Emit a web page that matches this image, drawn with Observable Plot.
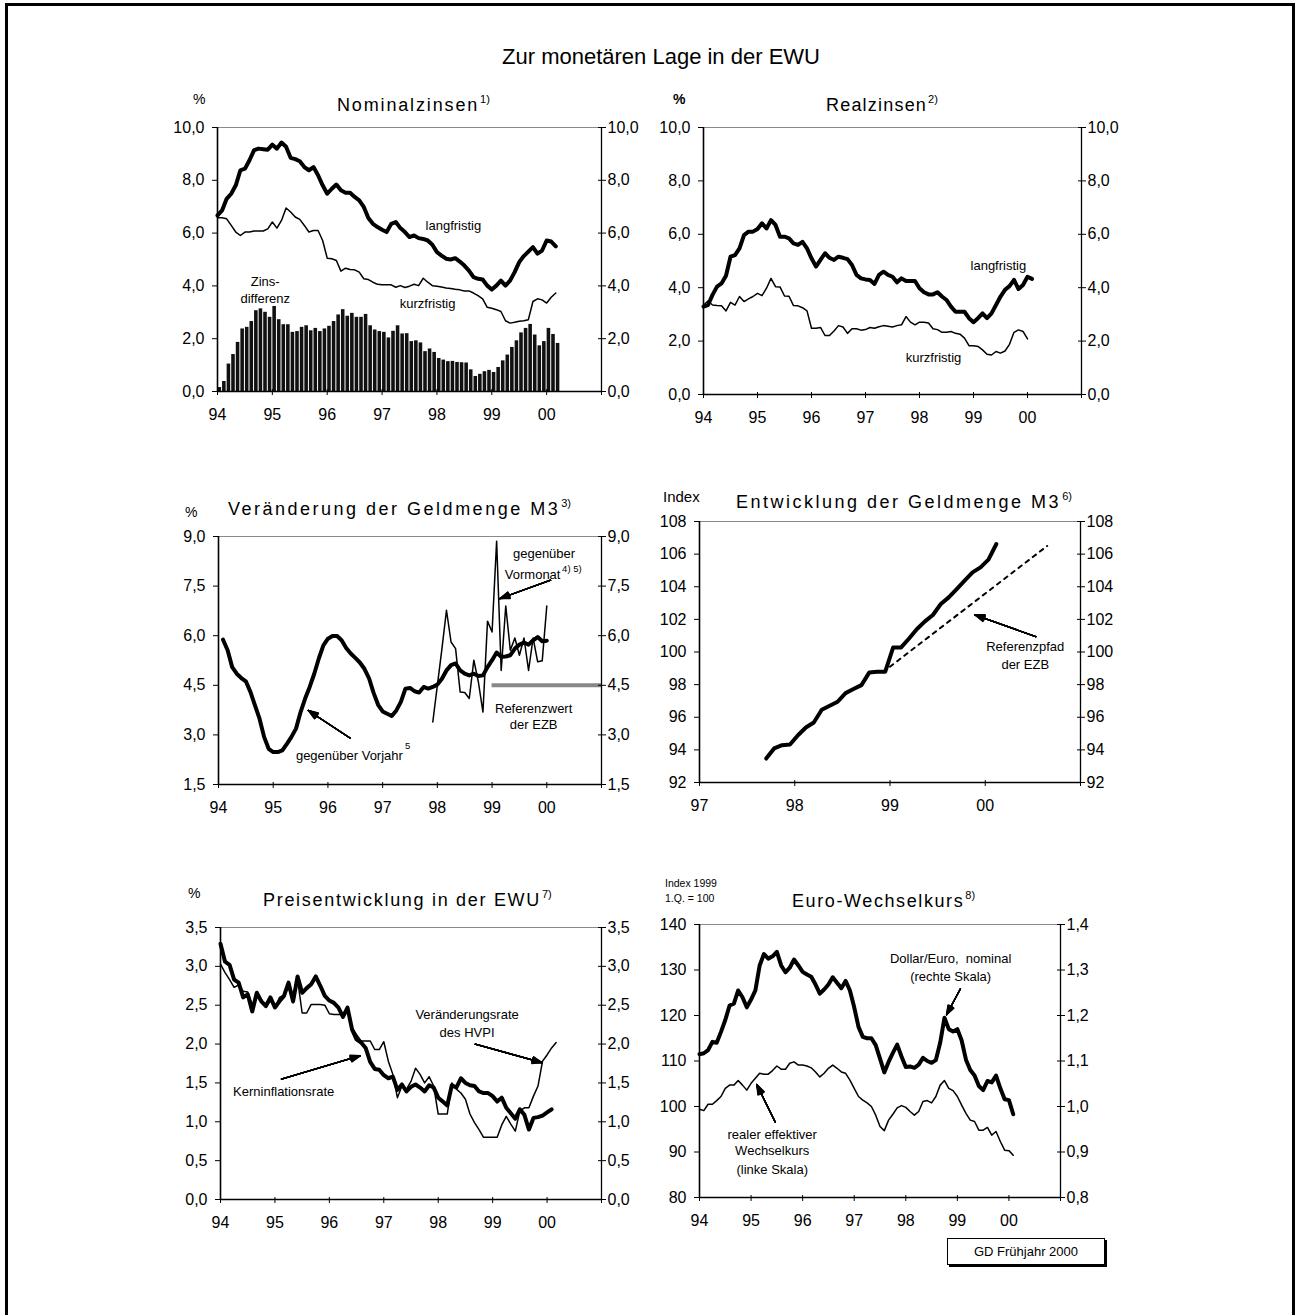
<!DOCTYPE html>
<html lang="de">
<head>
<meta charset="utf-8">
<title>Zur monetären Lage in der EWU</title>
<script src="https://cdn.jsdelivr.net/npm/d3@7"></script>
<script src="https://cdn.jsdelivr.net/npm/@observablehq/plot@0.6"></script>
<style>
html,body{margin:0;padding:0;background:#fff;}
#page{position:relative;width:1296px;height:1315px;overflow:hidden;background:#fff;font-family:"Liberation Sans",Arial,Helvetica,sans-serif;}
#outer{position:absolute;left:5px;top:3px;width:1290px;height:1340px;border:3px solid #000;box-sizing:border-box;}
#stamp{position:absolute;left:947px;top:1238px;width:158px;height:27px;border:1px solid #000;box-shadow:2px 2px 0 #000;font-size:13px;line-height:25px;text-align:center;background:#fff;box-sizing:border-box;z-index:5;}
#page svg{position:absolute;overflow:visible;}
</style>
</head>
<body>
<div id="page"><div id="outer"></div><div id="stamp">GD Frühjahr 2000</div></div>
<script>
// ---------------- DATA ----------------
// Nominalzinsen, monthly from Jan 1994
const nomLang = [
  6.67, 6.86, 7.30, 7.49, 7.81, 8.38, 8.44, 8.76, 9.14, 9.20, 9.18, 9.16,
  9.35, 9.20, 9.43, 9.27, 8.85, 8.80, 8.72, 8.50, 8.38, 8.50, 8.19, 7.81,
  7.49, 7.68, 7.84, 7.62, 7.53, 7.53, 7.37, 7.24, 6.99, 6.57, 6.35, 6.23,
  6.13, 6.04, 6.35, 6.42, 6.19, 6.04, 5.85, 5.91, 5.81, 5.78, 5.72, 5.56,
  5.28, 5.15, 5.03, 5.00, 5.05, 4.92, 4.77, 4.58, 4.33, 4.27, 4.24, 4.01,
  3.86, 4.01, 4.20, 4.01, 4.20, 4.52, 4.90, 5.13, 5.30, 5.47, 5.22, 5.34,
  5.72, 5.68, 5.50
];
const nomKurz = [
  6.58, 6.58, 6.54, 6.29, 6.04, 5.91, 6.04, 6.04, 6.08, 6.08, 6.08, 6.16,
  6.42, 6.19, 6.48, 6.95, 6.80, 6.61, 6.52, 6.29, 6.04, 6.10, 6.10, 5.72,
  5.05, 5.03, 4.96, 4.56, 4.67, 4.62, 4.61, 4.52, 4.27, 4.24, 4.14, 4.06,
  4.04, 4.04, 4.04, 3.95, 4.01, 3.94, 3.99, 4.06, 4.01, 4.29, 4.14, 4.01,
  3.99, 3.96, 3.92, 3.90, 3.87, 3.85, 3.81, 3.81, 3.73, 3.63, 3.51, 3.19,
  3.15, 3.10, 3.03, 2.68, 2.59, 2.62, 2.66, 2.68, 2.72, 3.41, 3.51, 3.47,
  3.35, 3.57, 3.73
];
const zinsDiff = [
  0.15, 0.38, 1.04, 1.40, 1.86, 2.37, 2.43, 2.65, 3.06, 3.13, 3.00, 2.81,
  3.22, 2.72, 2.53, 2.53, 2.24, 2.27, 2.43, 2.49, 2.30, 2.39, 2.27, 2.37,
  2.47, 2.65, 2.90, 3.10, 2.85, 2.96, 2.81, 2.81, 2.92, 2.49, 2.33, 2.27,
  2.24, 2.03, 2.28, 2.49, 2.18, 2.19, 1.89, 1.92, 1.84, 1.51, 1.61, 1.48,
  1.25, 1.19, 1.13, 1.14, 1.10, 1.09, 1.08, 0.82, 0.57, 0.65, 0.75, 0.80,
  0.72, 0.91, 1.16, 1.38, 1.67, 1.92, 2.22, 2.39, 2.54, 2.14, 1.73, 1.89,
  2.39, 2.16, 1.82
];
// Realzinsen, monthly from Jan 1994
const realLang = [
  3.29, 3.35, 3.73, 4.04, 4.16, 4.45, 5.16, 5.22, 5.47, 5.97, 6.10, 6.10,
  6.20, 6.41, 6.22, 6.53, 6.35, 5.91, 5.91, 5.85, 5.66, 5.60, 5.72, 5.47,
  5.10, 4.79, 5.04, 5.29, 5.12, 5.04, 5.16, 5.12, 5.07, 4.85, 4.48, 4.35,
  4.31, 4.29, 4.14, 4.48, 4.60, 4.48, 4.41, 4.20, 4.35, 4.25, 4.25, 4.25,
  3.98, 3.83, 3.75, 3.75, 3.83, 3.67, 3.54, 3.29, 3.10, 3.10, 3.10, 2.86,
  2.71, 2.86, 3.04, 2.86, 3.04, 3.35, 3.67, 3.92, 4.06, 4.29, 3.95, 4.10,
  4.41, 4.33
];
const realKurz = [
  3.35, 3.50, 3.35, 3.33, 3.32, 3.13, 3.45, 3.35, 3.67, 3.48, 3.58, 3.67,
  3.79, 3.70, 3.98, 4.35, 4.04, 4.03, 3.69, 3.68, 3.33, 3.32, 3.25, 3.13,
  2.48, 2.48, 2.51, 2.21, 2.21, 2.38, 2.58, 2.53, 2.29, 2.46, 2.46, 2.41,
  2.43, 2.51, 2.48, 2.54, 2.58, 2.56, 2.53, 2.58, 2.61, 2.92, 2.71, 2.61,
  2.71, 2.71, 2.68, 2.46, 2.43, 2.33, 2.33, 2.36, 2.29, 2.26, 2.11, 1.83,
  1.83, 1.80, 1.67, 1.51, 1.48, 1.61, 1.55, 1.63, 1.88, 2.33, 2.42, 2.36,
  2.08
];
// Veränderung der Geldmenge M3: gegenüber Vorjahr from Feb 1994, gegenüber Vormonat from Dec 1997
const m3Vorjahr = [
  5.88, 5.56, 5.05, 4.85, 4.72, 4.62, 4.30, 3.89, 3.49, 2.94, 2.58, 2.48,
  2.48, 2.53, 2.73, 2.94, 3.19, 3.69, 4.10, 4.45, 4.85, 5.31, 5.71, 5.91,
  5.99, 5.99, 5.86, 5.63, 5.46, 5.33, 5.19, 5.00, 4.72, 4.28, 3.91, 3.71,
  3.64, 3.57, 3.74, 4.00, 4.40, 4.42, 4.32, 4.28, 4.45, 4.40, 4.45, 4.52,
  4.70, 4.95, 5.11, 5.16, 4.95, 4.85, 4.80, 4.85, 4.78, 4.80, 5.05, 5.26,
  5.49, 5.36, 5.37, 5.41, 5.61, 5.73, 5.79, 5.73, 5.86, 5.96, 5.83, 5.85
];
const m3Vormonat = [
  3.39, 4.50, 5.60, 6.77, 5.81, 5.61, 4.30, 4.28, 4.10, 5.26, 4.60, 3.69,
  6.44, 6.11, 8.86, 4.95, 6.90, 5.56, 5.93, 5.41, 5.93, 4.95, 5.93, 5.21,
  5.24, 6.90
];
const m3Referenzwert = 4.5;
// Entwicklung der Geldmenge M3 (Index), monthly from Sep 1997
const m3Index = [
  93.47, 94.09, 94.29, 94.33, 94.90, 95.37, 95.68, 96.46, 96.70, 96.95,
  97.48, 97.73, 97.97, 98.75, 98.79, 98.79, 100.28, 100.28, 100.83, 101.41,
  101.88, 102.27, 102.94, 103.35, 103.86, 104.37, 104.88, 105.19, 105.66, 106.62
];
const refPfadX = [1999.0, 2000.65];
const refPfadY = [99.1, 106.5];
// Preisentwicklung, monthly from Jan 1994
const hvpi = [
  3.03, 2.92, 2.83, 2.73, 2.76, 2.68, 2.67, 2.51, 2.64, 2.58, 2.47, 2.56,
  2.47, 2.60, 2.63, 2.73, 2.53, 2.83, 2.40, 2.40, 2.51, 2.51, 2.51, 2.50,
  2.39, 2.38, 2.38, 2.38, 2.43, 2.21, 2.12, 2.04, 2.04, 2.04, 1.93, 1.93,
  2.03, 1.78, 1.61, 1.31, 1.46, 1.42, 1.52, 1.69, 1.61, 1.50, 1.58, 1.46,
  1.10, 1.10, 1.10, 1.50, 1.42, 1.37, 1.29, 1.10, 0.99, 0.90, 0.80, 0.80,
  0.80, 0.80, 0.96, 1.07, 0.97, 0.88, 1.14, 1.18, 1.18, 1.33, 1.46, 1.78,
  1.86, 1.95, 2.02
];
const kern = [
  3.29, 3.06, 3.02, 2.83, 2.79, 2.60, 2.64, 2.42, 2.66, 2.55, 2.49, 2.60,
  2.47, 2.55, 2.62, 2.79, 2.55, 2.87, 2.66, 2.72, 2.77, 2.87, 2.75, 2.62,
  2.56, 2.53, 2.47, 2.35, 2.47, 2.19, 2.06, 2.02, 1.95, 1.77, 1.68, 1.67,
  1.60, 1.56, 1.58, 1.41, 1.48, 1.39, 1.45, 1.48, 1.44, 1.39, 1.47, 1.44,
  1.31, 1.26, 1.21, 1.47, 1.44, 1.56, 1.50, 1.47, 1.46, 1.39, 1.37, 1.37,
  1.33, 1.26, 1.31, 1.18, 1.11, 1.04, 1.16, 1.09, 0.90, 1.05, 1.06, 1.08,
  1.12, 1.16
];
// Euro-Wechselkurs, monthly from Jan 1994
const dollarEuro = [
  1.115, 1.117, 1.124, 1.142, 1.140, 1.164, 1.190, 1.222, 1.226, 1.255, 1.240, 1.218,
  1.235, 1.255, 1.310, 1.335, 1.325, 1.330, 1.340, 1.310, 1.295, 1.305, 1.323, 1.310,
  1.296, 1.290, 1.285, 1.268, 1.248, 1.257, 1.268, 1.284, 1.272, 1.260, 1.276, 1.255,
  1.218, 1.175, 1.153, 1.150, 1.150, 1.135, 1.105, 1.075, 1.098, 1.118, 1.136, 1.110,
  1.087, 1.088, 1.085, 1.092, 1.107, 1.100, 1.096, 1.102, 1.140, 1.195, 1.170, 1.165,
  1.170, 1.145, 1.103, 1.080, 1.068, 1.045, 1.036, 1.056, 1.053, 1.068, 1.040, 1.016,
  1.014, 0.983
];
const realEff = [
  99.4, 99.1, 100.5, 100.5, 101.3, 102.2, 104.0, 104.7, 104.7, 105.7, 104.7, 103.6,
  105.1, 106.2, 107.3, 107.1, 107.1, 107.9, 108.9, 108.2, 108.2, 109.5, 109.8, 109.1,
  109.1, 108.9, 108.5, 107.6, 106.5, 107.3, 108.4, 109.1, 108.4, 107.6, 107.3, 105.8,
  104.0, 102.2, 101.4, 100.8, 100.0, 98.1, 95.6, 94.7, 97.0, 98.3, 99.7, 100.2,
  99.8, 98.9, 98.1, 98.9, 101.1, 101.3, 100.8, 102.2, 104.7, 105.7, 104.0, 103.5,
  102.2, 100.3, 98.5, 97.0, 96.7, 94.8, 94.8, 95.4, 93.7, 94.5, 92.3, 90.4,
  90.3, 89.3
];
// Tick values
const years94 = [1994, 1995, 1996, 1997, 1998, 1999, 2000, 2001];
const years97 = [1997, 1998, 1999, 2000, 2001];
const ticksZins = [0, 2, 4, 6, 8, 10];
const ticksM3 = [1.5, 3, 4.5, 6, 7.5, 9];
const ticksIndex = [92, 94, 96, 98, 100, 102, 104, 106, 108];
const ticksPreis = [0, 0.5, 1, 1.5, 2, 2.5, 3, 3.5];
const ticksKurs = [80, 90, 100, 110, 120, 130, 140];

// ---------------- HELPERS ----------------
const FONT = '"Liberation Sans", Arial, Helvetica, sans-serif';
const page = document.getElementById("page");
const comma = n => d => d.toFixed(n).replace(".", ",");
const yy = d => d <= 2000 ? String(d % 100).padStart(2, "0") : "";
const monthly = (values, start, scale = 1) => values.map((v, i) => ({x: start + i / 12, y: v * scale}));

function arrows(data) {
  return [5, 10, 15, 20, 25, 30, 35, 40].map(a =>
    Plot.arrow(data, {x1: "x1", y1: "y1", x2: "x2", y2: "y2", headAngle: a, headLength: 12,
      stroke: "#000", strokeWidth: 1.3}));
}
function labels(data, opts = {}) {
  return Plot.text(data, {x: "x", y: "y", text: "t", fontSize: 13, fill: "#000", ...opts});
}

function panel(p) {
  const ML = 70, MR = 70, MT = 14, MB = 40;
  const w = p.right - p.left, h = p.bottom - p.top;
  const [x0, x1] = p.xDomain, [y0, y1] = p.yDomain;
  const marks = [
    ...p.marks,
    Plot.ruleY([y1], {stroke: "#8a8a8a", strokeWidth: 1}),
    Plot.ruleY([y0], {stroke: "#000", strokeWidth: 1.3}),
    Plot.ruleX([x0], {stroke: "#000", strokeWidth: 1.6}),
    Plot.ruleX([x1], {stroke: "#000", strokeWidth: 1.3}),
    Plot.axisY({ticks: p.yTicks, anchor: "left", tickSize: 5, tickPadding: 8, tickFormat: p.yFmt, fontSize: 16, label: null}),
    Plot.axisY({ticks: p.yTicks, anchor: "right", tickSize: 8, dx: -4, tickPadding: 2, tickFormat: p.rFmt || p.yFmt, fontSize: 16, label: null}),
    Plot.axisX({ticks: p.xTicks, anchor: "bottom", tickSize: 6, dy: -2, tickPadding: 13, tickFormat: yy, fontSize: 16, label: null})
  ];
  const svg = Plot.plot({
    width: w + ML + MR, height: h + MT + MB,
    marginLeft: ML, marginRight: MR, marginTop: MT, marginBottom: MB,
    style: {fontFamily: FONT, background: "transparent", overflow: "visible", color: "#000"},
    x: {domain: p.xDomain}, y: {domain: p.yDomain},
    marks
  });
  svg.style.left = (p.left - ML) + "px";
  svg.style.top = (p.top - MT) + "px";
  page.appendChild(svg);
}

// ---------------- PANELS ----------------
// 1) Nominalzinsen
panel({
  left: 217, right: 601, top: 127, bottom: 391,
  xDomain: [1994, 2001], yDomain: [0, 10], xTicks: years94, yTicks: ticksZins, yFmt: comma(1),
  marks: [
    Plot.rect(zinsDiff, {x1: (d, i) => 1994 + i / 12, x2: (d, i) => 1994 + (i + 1) / 12, y1: 0, y2: d => d,
      fill: "#111", insetLeft: 0.5, insetRight: 0.5}),
    Plot.line(monthly(nomKurz, 1994), {x: "x", y: "y", stroke: "#000", strokeWidth: 1.5}),
    Plot.line(monthly(nomLang, 1994), {x: "x", y: "y", stroke: "#000", strokeWidth: 4, strokeLinejoin: "round"}),
    labels([
      {x: 1998.30, y: 6.26, t: "langfristig"},
      {x: 1997.83, y: 3.33, t: "kurzfristig"},
      {x: 1994.87, y: 4.14, t: "Zins-"},
      {x: 1994.87, y: 3.51, t: "differenz"}
    ])
  ]
});

// 2) Realzinsen
panel({
  left: 703, right: 1081, top: 127, bottom: 394,
  xDomain: [1994, 2001], yDomain: [0, 10], xTicks: years94, yTicks: ticksZins, yFmt: comma(1),
  marks: [
    Plot.line(monthly(realKurz, 1994), {x: "x", y: "y", stroke: "#000", strokeWidth: 1.5}),
    Plot.line(monthly(realLang, 1994), {x: "x", y: "y", stroke: "#000", strokeWidth: 4, strokeLinejoin: "round"}),
    labels([
      {x: 1999.46, y: 4.83, t: "langfristig"},
      {x: 1998.26, y: 1.36, t: "kurzfristig"}
    ])
  ]
});

// 3) Veränderung der Geldmenge M3
panel({
  left: 218, right: 601, top: 536, bottom: 784,
  xDomain: [1994, 2001], yDomain: [1.5, 9], xTicks: years94, yTicks: ticksM3, yFmt: comma(1),
  marks: [
    Plot.ruleY([m3Referenzwert], {x1: 1999, x2: 2001, stroke: "#888", strokeWidth: 4}),
    Plot.line(monthly(m3Vormonat, 1994 + 47 / 12), {x: "x", y: "y", stroke: "#000", strokeWidth: 1.5}),
    Plot.line(monthly(m3Vorjahr, 1994 + 1 / 12), {x: "x", y: "y", stroke: "#000", strokeWidth: 4, strokeLinejoin: "round"}),
    ...arrows([
      {x1: 1996.41, y1: 2.90, x2: 1995.64, y2: 3.74},
      {x1: 2000.07, y1: 7.68, x2: 1999.14, y2: 7.12}
    ]),
    labels([
      {x: 1997.37, y: 2.38, t: "gegenüber Vorjahr"},
      {x: 2000.25, y: 7.83, t: "Vormonat"}
    ], {textAnchor: "end"}),
    labels([
      {x: 1997.41, y: 2.66, t: "5"},
      {x: 2000.28, y: 8.03, t: "4) 5)"}
    ], {textAnchor: "start", fontSize: 9.5}),
    labels([
      {x: 1999.95, y: 8.48, t: "gegenüber"},
      {x: 1999.76, y: 3.79, t: "Referenzwert"},
      {x: 1999.76, y: 3.29, t: "der EZB"}
    ])
  ]
});

// 4) Entwicklung der Geldmenge M3
panel({
  left: 699, right: 1080, top: 521, bottom: 782,
  xDomain: [1997, 2001], yDomain: [92, 108], xTicks: years97, yTicks: ticksIndex, yFmt: d => String(d),
  marks: [
    Plot.line(refPfadX.map((x, i) => ({x, y: refPfadY[i]})), {x: "x", y: "y", stroke: "#000", strokeWidth: 2, strokeDasharray: "4,5"}),
    Plot.line(monthly(m3Index, 1997 + 8.4 / 12), {x: "x", y: "y", stroke: "#000", strokeWidth: 4, strokeLinejoin: "round", strokeLinecap: "round"}),
    ...arrows([{x1: 2000.53, y1: 100.94, x2: 1999.89, y2: 102.28}]),
    labels([
      {x: 2000.42, y: 100.33, t: "Referenzpfad"},
      {x: 2000.42, y: 99.24, t: "der EZB"}
    ])
  ]
});

// 5) Preisentwicklung in der EWU
panel({
  left: 220, right: 601, top: 927, bottom: 1199,
  xDomain: [1994, 2001], yDomain: [0, 3.5], xTicks: years94, yTicks: ticksPreis, yFmt: comma(1),
  marks: [
    Plot.line(monthly(hvpi, 1994), {x: "x", y: "y", stroke: "#000", strokeWidth: 1.5}),
    Plot.line(monthly(kern, 1994), {x: "x", y: "y", stroke: "#000", strokeWidth: 4, strokeLinejoin: "round"}),
    ...arrows([
      {x1: 1998.68, y1: 2.00, x2: 1999.91, y2: 1.76},
      {x1: 1995.12, y1: 1.55, x2: 1996.57, y2: 1.85}
    ]),
    labels([
      {x: 1998.53, y: 2.37, t: "Veränderungsrate"},
      {x: 1998.53, y: 2.15, t: "des HVPI"},
      {x: 1995.16, y: 1.38, t: "Kerninflationsrate"}
    ])
  ]
});

// 6) Euro-Wechselkurs
panel({
  left: 699, right: 1060, top: 924, bottom: 1197,
  xDomain: [1994, 2001], yDomain: [80, 140], xTicks: years94, yTicks: ticksKurs,
  yFmt: d => String(d), rFmt: d => (d / 100).toFixed(1).replace(".", ","),
  marks: [
    Plot.line(monthly(realEff, 1994), {x: "x", y: "y", stroke: "#000", strokeWidth: 1.5}),
    Plot.line(monthly(dollarEuro, 1994, 100), {x: "x", y: "y", stroke: "#000", strokeWidth: 4, strokeLinejoin: "round"}),
    ...arrows([
      {x1: 1999.06, y1: 125.87, x2: 1998.79, y2: 120.15},
      {x1: 1995.47, y1: 96.55, x2: 1995.11, y2: 104.84}
    ]),
    labels([
      {x: 1998.87, y: 132.46, t: "Dollar/Euro,  nominal"},
      {x: 1998.87, y: 128.57, t: "(rechte Skala)"},
      {x: 1995.41, y: 93.85, t: "realer effektiver"},
      {x: 1995.41, y: 90.18, t: "Wechselkurs"},
      {x: 1995.41, y: 86.15, t: "(linke Skala)"}
    ])
  ]
});

// ---------------- TITLES ----------------
const pageTexts = [
  {t: "Zur monetären Lage in der EWU", x: 661, y: 64, size: 22, anchor: "middle"},
  {t: "Nominalzinsen", sup: "1)", x: 337, y: 111, size: 18, ls: 1.85},
  {t: "%", x: 193, y: 104, size: 14},
  {t: "Realzinsen", sup: "2)", x: 826, y: 111, size: 18, ls: 1.2},
  {t: "%", x: 673, y: 104, size: 14, bold: true},
  {t: "Veränderung der Geldmenge M3", sup: "3)", x: 228, y: 515, size: 18, ls: 2.5},
  {t: "%", x: 185, y: 517, size: 14},
  {t: "Entwicklung der Geldmenge M3", sup: "6)", x: 736, y: 508, size: 18, ls: 2.5},
  {t: "Index", x: 663, y: 502, size: 15},
  {t: "Preisentwicklung in der EWU", sup: "7)", x: 263, y: 906, size: 18, ls: 1.7},
  {t: "%", x: 188, y: 898, size: 14},
  {t: "Euro-Wechselkurs", sup: "8)", x: 792, y: 907, size: 18, ls: 1.6},
  {t: "Index 1999", x: 665, y: 887, size: 10.5},
  {t: "1.Q. = 100", x: 665, y: 902, size: 10.5}
];
const overlay = d3.create("svg")
  .attr("width", 1296).attr("height", 1315)
  .style("left", "0px").style("top", "0px")
  .style("font-family", FONT);
for (const d of pageTexts) {
  const txt = overlay.append("text")
    .attr("x", d.x).attr("y", d.y)
    .attr("font-size", d.size)
    .attr("text-anchor", d.anchor || "start")
    .attr("font-weight", d.bold ? "bold" : null)
    .attr("fill", "#000");
  txt.append("tspan").attr("letter-spacing", d.ls || 0).text(d.t);
  if (d.sup) txt.append("tspan").attr("font-size", 11).attr("dy", -8).attr("dx", 1).text(d.sup);
}
page.appendChild(overlay.node());
</script>
</body>
</html>
